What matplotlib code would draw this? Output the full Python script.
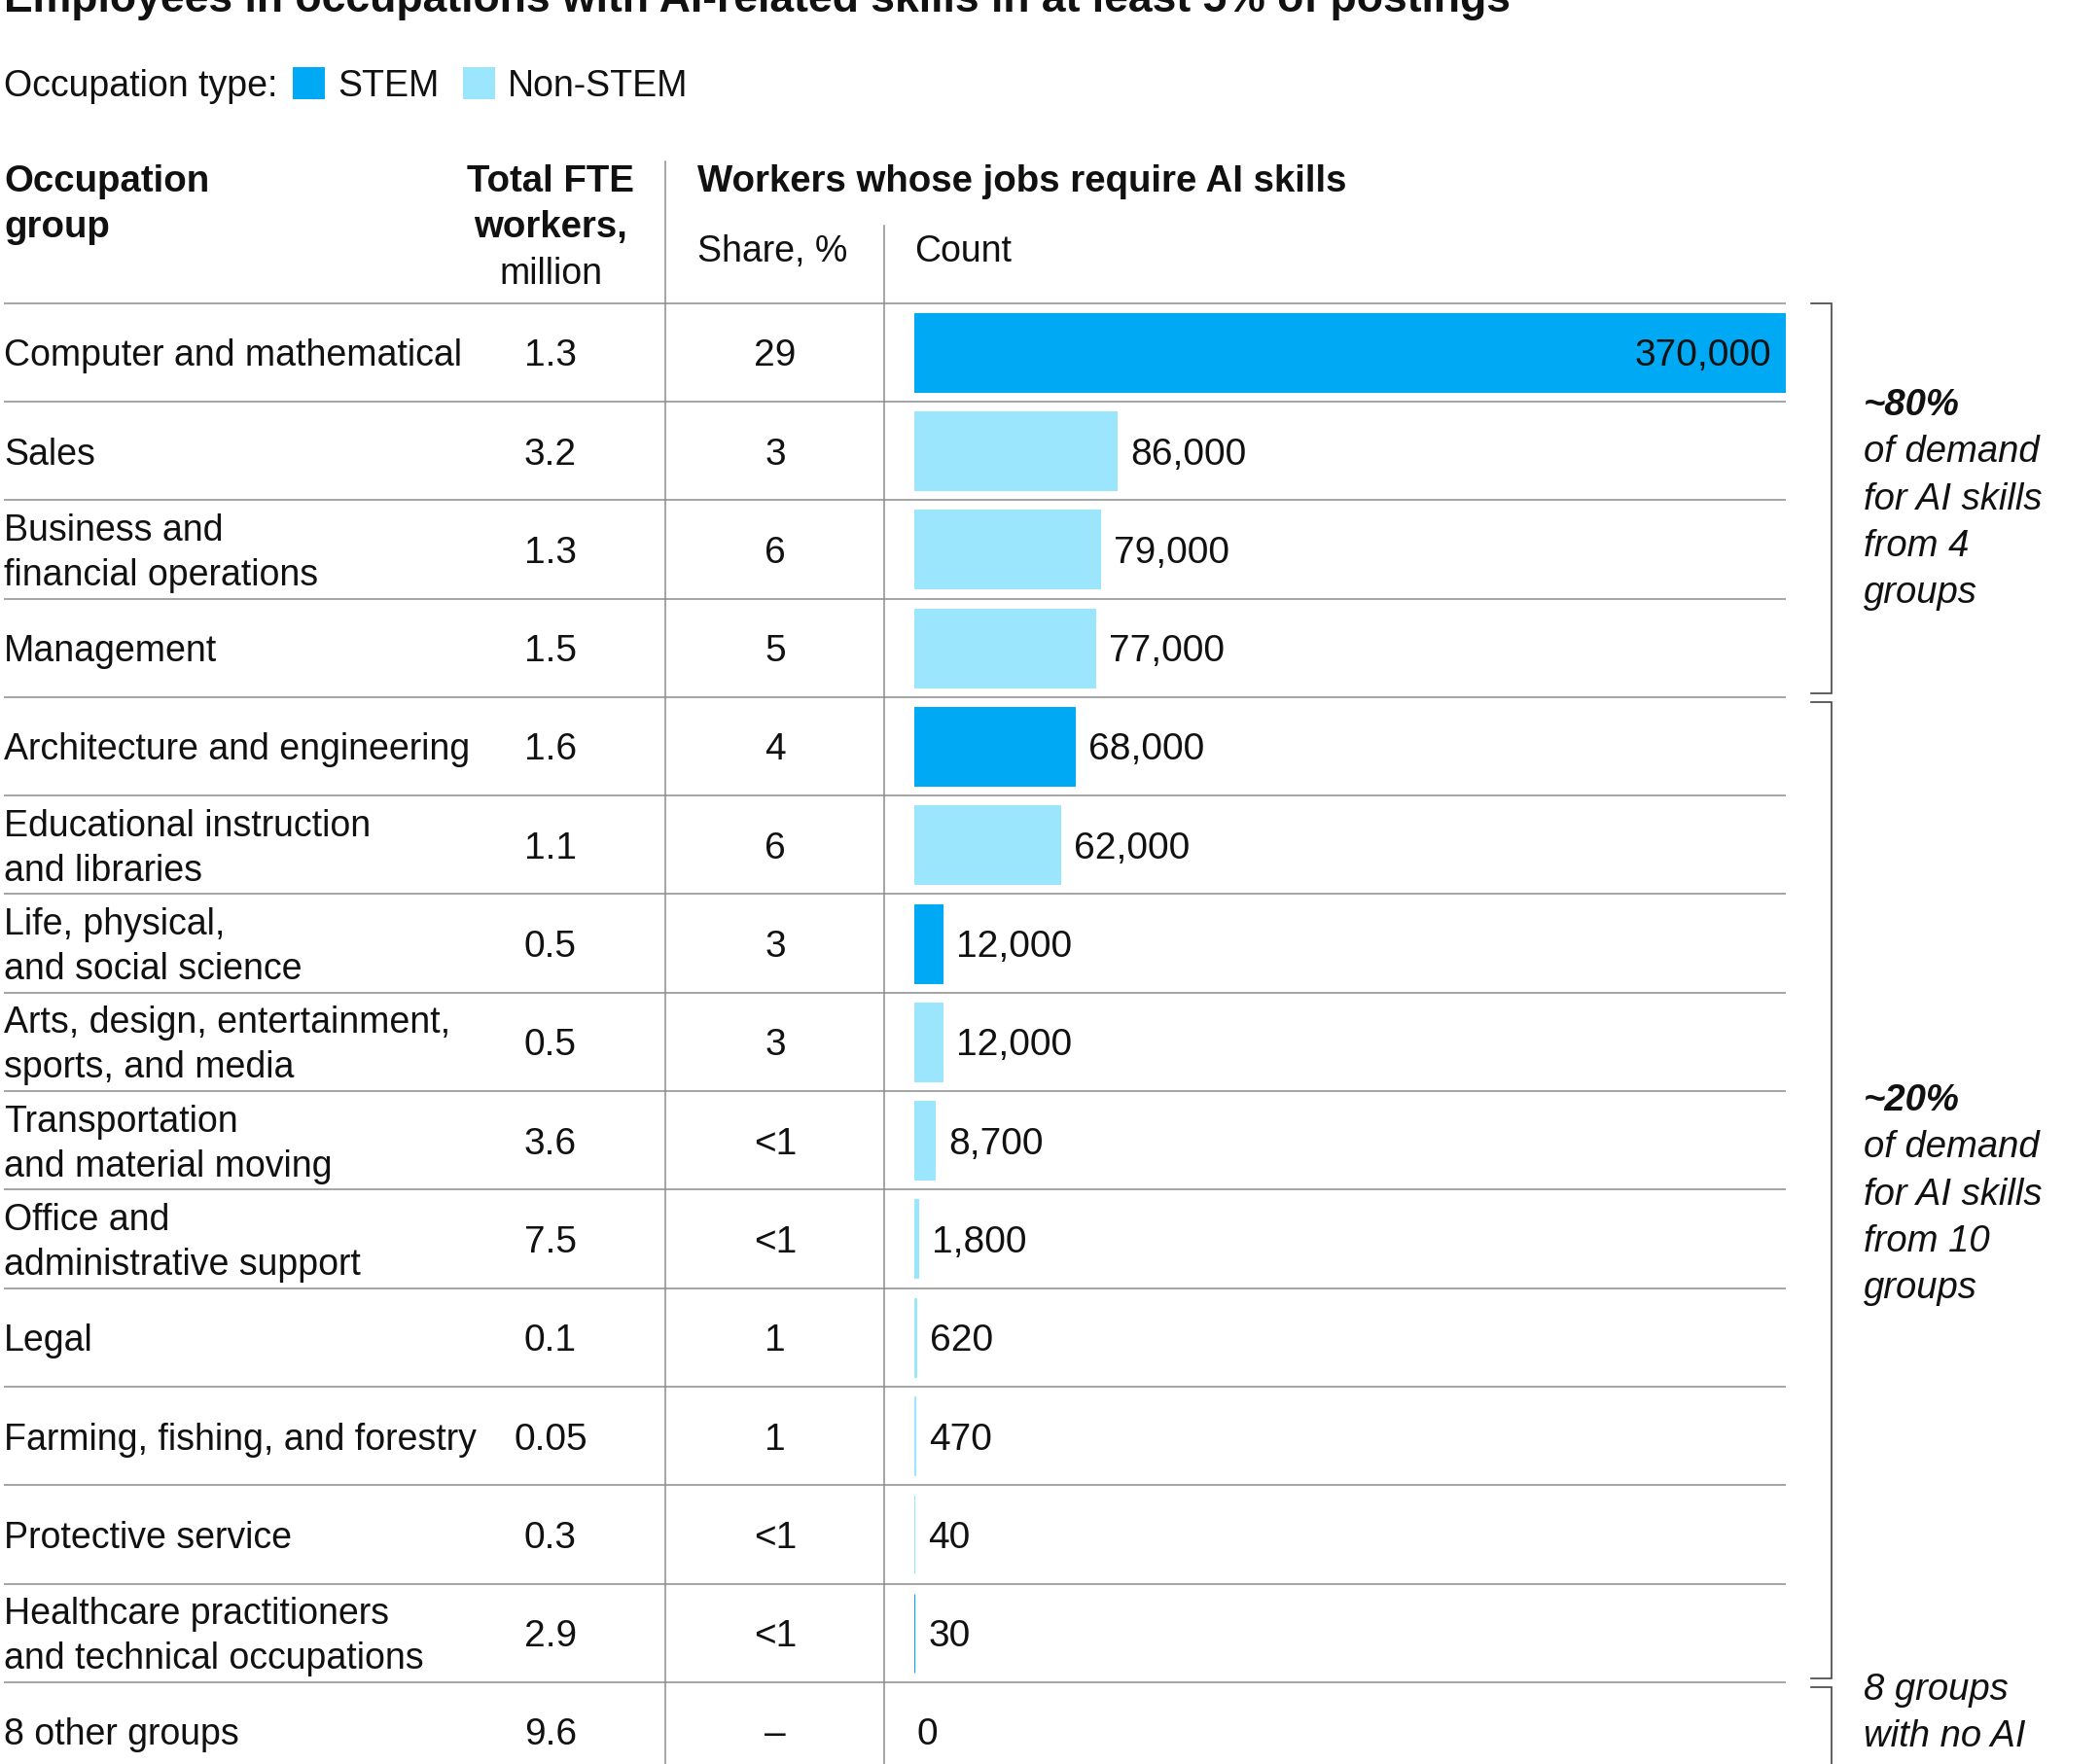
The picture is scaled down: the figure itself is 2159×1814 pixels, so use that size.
"""
Employees in occupations with AI-related skills: table with bar column.
"""

import matplotlib.pyplot as plt
from matplotlib.patches import Rectangle

plt.rcParams["font.family"] = ["Liberation Sans", "DejaVu Sans"]

# data
groups = [
    "Computer and mathematical",
    "Sales",
    "Business and\nfinancial operations",
    "Management",
    "Architecture and engineering",
    "Educational instruction\nand libraries",
    "Life, physical,\nand social science",
    "Arts, design, entertainment,\nsports, and media",
    "Transportation\nand material moving",
    "Office and\nadministrative support",
    "Legal",
    "Farming, fishing, and forestry",
    "Protective service",
    "Healthcare practitioners\nand technical occupations",
    "8 other groups",
]
fte_million = ["1.3", "3.2", "1.3", "1.5", "1.6", "1.1", "0.5", "0.5",
               "3.6", "7.5", "0.1", "0.05", "0.3", "2.9", "9.6"]
share_pct = ["29", "3", "6", "5", "4", "6", "3", "3",
             "<1", "<1", "1", "1", "<1", "<1", "–"]
ai_count = [370000, 86000, 79000, 77000, 68000, 62000, 12000, 12000,
            8700, 1800, 620, 470, 40, 30, 0]
is_stem = [True, False, False, False, True, False, True, False,
           False, False, False, False, False, True, False]

bracket_groups = [(0, 3), (4, 13), (14, 14)]
bracket_notes = [
    ["~80%", "of demand", "for AI skills", "from 4", "groups"],
    ["~20%", "of demand", "for AI skills", "from 10", "groups"],
    ["8 groups", "with no AI"],
]

# layout (pixels)
W, H, DPI = 2159, 1815, 100
STEM_C = "#00A9F4"
NON_STEM_C = "#9BE6FD"
GRID = "#8C8C8C"
INK = "#111111"
FS = 27
FS_BOLD = 27.6
FS_NUM = 28
TOP = 312.6
ROW_H = 101.3
LEFT = 4
RIGHT = 1836
BAR_X0 = 940
COL_FTE = 566
COL_SHARE = 797
VLINE1 = 684
VLINE2 = 909
BASE = 13      # baseline below visual centre
LINE_GAP = 46

fig = plt.figure(figsize=(W / DPI, H / DPI), dpi=DPI)
bg = fig.add_axes([0, 0, 1, 1])
bg.set_xlim(0, W)
bg.set_ylim(H, 0)
bg.axis("off")

n = len(groups)


def row_center(i):
    return TOP + (i + 0.5) * ROW_H


# title (cut by the top edge, as in the source)
bg.text(4, 12, "Employees in occupations with AI-related skills in at least 5% of postings",
        fontsize=32, fontweight="bold", color=INK, va="baseline")

# legend
bg.text(4, 99, "Occupation type:", fontsize=FS, color=INK, va="baseline")
bg.add_patch(Rectangle((301, 70), 33, 33, color=STEM_C, lw=0))
bg.text(347, 99, "STEM", fontsize=FS, color=INK, va="baseline")
bg.add_patch(Rectangle((476, 70), 33, 33, color=NON_STEM_C, lw=0))
bg.text(522, 99, "Non-STEM", fontsize=FS, color=INK, va="baseline")

# column headers
bg.text(4, 197, "Occupation", fontsize=FS_BOLD, fontweight="bold", color=INK, va="baseline")
bg.text(4, 244, "group", fontsize=FS_BOLD, fontweight="bold", color=INK, va="baseline")
bg.text(COL_FTE, 197, "Total FTE", fontsize=FS_BOLD, fontweight="bold", color=INK,
        va="baseline", ha="center")
bg.text(COL_FTE, 244, "workers,", fontsize=FS_BOLD, fontweight="bold", color=INK,
        va="baseline", ha="center")
bg.text(COL_FTE, 292, "million", fontsize=FS, color=INK, va="baseline", ha="center")
bg.text(717, 197, "Workers whose jobs require AI skills", fontsize=FS_BOLD,
        fontweight="bold", color=INK, va="baseline")
bg.text(717, 269, "Share, %", fontsize=FS, color=INK, va="baseline")
bg.text(BAR_X0, 269, "Count", fontsize=FS, color=INK, va="baseline")

# grid lines
for i in range(n):
    y = TOP + i * ROW_H
    bg.plot([LEFT, RIGHT], [y, y], color=GRID, lw=1.1, solid_capstyle="butt")
bg.plot([VLINE1, VLINE1], [167, H], color=GRID, lw=1.1)
bg.plot([VLINE2, VLINE2], [233, H], color=GRID, lw=1.1)

# table text
for i in range(n):
    c = row_center(i)
    lines = groups[i].split("\n")
    if len(lines) == 1:
        bg.text(LEFT, c + BASE, lines[0], fontsize=FS, color=INK, va="baseline")
    else:
        bg.text(LEFT, c - LINE_GAP / 2 + BASE, lines[0], fontsize=FS, color=INK, va="baseline")
        bg.text(LEFT, c + LINE_GAP / 2 + BASE, lines[1], fontsize=FS, color=INK, va="baseline")
    bg.text(COL_FTE, c + BASE, fte_million[i], fontsize=FS_NUM, color=INK,
            va="baseline", ha="center")
    bg.text(COL_SHARE, c + BASE, share_pct[i], fontsize=FS_NUM, color=INK,
            va="baseline", ha="center")

# bars
bar_ax = fig.add_axes([
    BAR_X0 / W,
    1 - (TOP + n * ROW_H) / H,
    (RIGHT - BAR_X0) / W,
    n * ROW_H / H,
])
colors = [STEM_C if s else NON_STEM_C for s in is_stem]
edge_w = [0.8 if v > 0 else 0 for v in ai_count]
bar_ax.barh(range(n), ai_count, height=0.8, color=colors,
            edgecolor=colors, linewidth=edge_w)
bar_ax.set_xlim(0, max(ai_count))
bar_ax.set_ylim(n - 0.5, -0.5)
bar_ax.axis("off")
bar_ax.patch.set_alpha(0)

pt = 72 / DPI
for i, v in enumerate(ai_count):
    label = f"{v:,}"
    if v > 0.5 * max(ai_count):
        bar_ax.annotate(label, (v, i), xytext=(-15 * pt, -BASE * pt),
                        textcoords="offset points", ha="right", va="baseline",
                        fontsize=FS_NUM, color=INK)
    else:
        gap = 14 if v > 0 else 2
        bar_ax.annotate(label, (v, i), xytext=(gap * pt, -BASE * pt),
                        textcoords="offset points", ha="left", va="baseline",
                        fontsize=FS_NUM, color=INK)

# brackets and notes
BX = 1883
for k, (a, b) in enumerate(bracket_groups):
    y0 = TOP + a * ROW_H + (0 if a == 0 else 5)
    y1 = TOP + (b + 1) * ROW_H - 4
    bg.plot([BX - 21, BX, BX, BX - 21], [y0, y0, y1, y1],
            color="#444444", lw=1.2, solid_joinstyle="miter")

note_base = [427, 1142, 1748]
for k, lines in enumerate(bracket_notes):
    for j, line in enumerate(lines):
        bold = (j == 0 and line.startswith("~"))
        bg.text(1916, note_base[k] + j * 48.3, line, fontsize=27.5, color=INK,
                style="italic", fontweight="bold" if bold else "normal",
                va="baseline")

fig.savefig("out.png", dpi=DPI)
